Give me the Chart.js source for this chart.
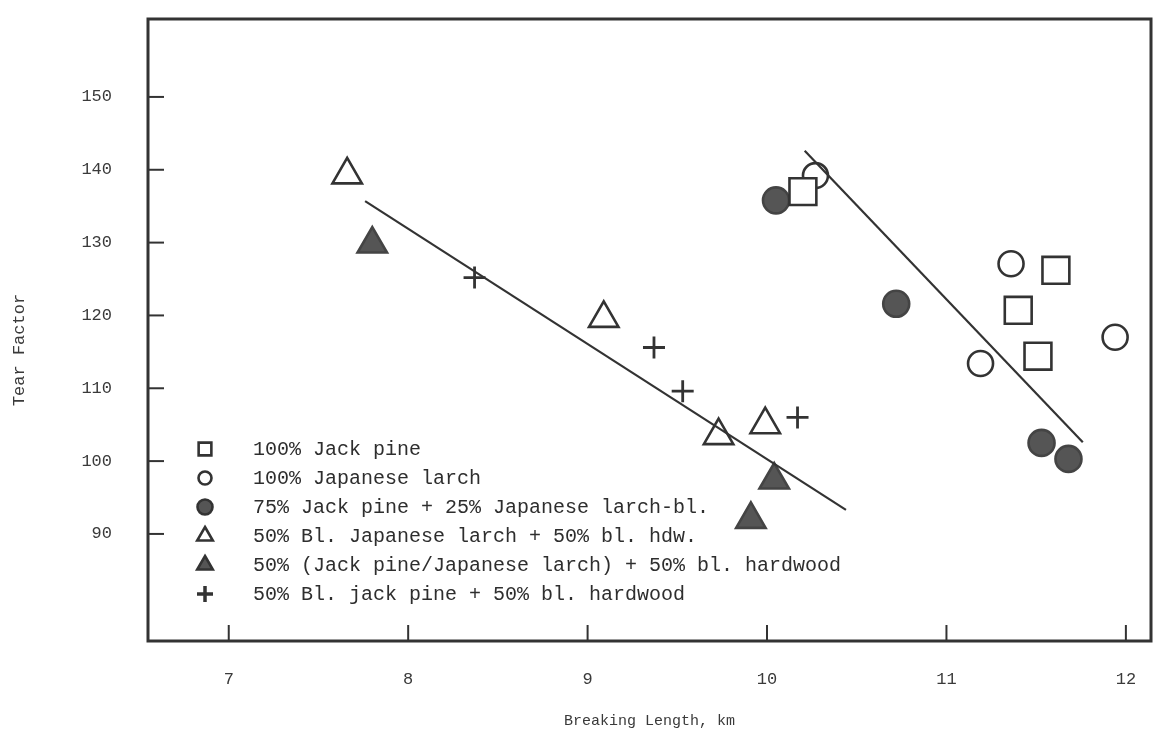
<!DOCTYPE html>
<html>
<head>
<meta charset="utf-8">
<script src="https://cdn.jsdelivr.net/npm/chart.js@4"></script>
<style>
  html, body { margin: 0; padding: 0; background: #fff; }
  #wrap { width: 1153px; height: 734px; position: relative; }
</style>
</head>
<body>
<div id="wrap"><canvas id="tearChart"></canvas></div>
<script>
// data
const xTicks = [7, 8, 9, 10, 11, 12];
const yTicks = [90, 100, 110, 120, 130, 140, 150];

const seriesNames = [
    '100% Jack pine',
    '100% Japanese larch',
    '75% Jack pine + 25% Japanese larch-bl.',
    '50% Bl. Japanese larch + 50% bl. hdw.',
    '50% (Jack pine/Japanese larch) + 50% bl. hardwood',
    '50% Bl. jack pine + 50% bl. hardwood'
];

const jackPineX = [10.20, 11.61, 11.40, 11.51];
const jackPineY = [137.0, 126.2, 120.7, 114.4];

const larchX = [10.27, 11.36, 11.19, 11.94];
const larchY = [139.2, 127.1, 113.4, 117.0];

const mix75X = [10.05, 10.72, 11.53, 11.68];
const mix75Y = [135.8, 121.6, 102.5, 100.3];

const blLarchX = [7.66, 9.09, 9.73, 9.99];
const blLarchY = [139.3, 119.6, 103.5, 105.0];

const blMixX = [7.80, 10.04, 9.91];
const blMixY = [129.8, 97.4, 92.0];

const blJackX = [8.37, 9.37, 9.53, 10.17];
const blJackY = [125.2, 115.6, 109.6, 106.0];

// two fitted lines
const fitLeftX = [7.76, 10.44];
const fitLeftY = [135.7, 93.3];
const fitRightX = [10.21, 11.76];
const fitRightY = [142.6, 102.6];

const ink = '#333333';
const grey = '#555555';

function pts(xs, ys) {
    return xs.map((x, i) => ({ x: x, y: ys[i] }));
}

// marker looks, in legend order
const markerStyles = [
    { pointStyle: 'rect', radius: 19, fill: '#ffffff', legendRadius: 9 },
    { pointStyle: 'circle', radius: 12.5, fill: '#ffffff', legendRadius: 6.5 },
    { pointStyle: 'circle', radius: 13, fill: grey, legendRadius: 7.5 },
    { pointStyle: 'triangle', radius: 17, fill: '#ffffff', legendRadius: 9 },
    { pointStyle: 'triangle', radius: 17, fill: grey, legendRadius: 9 },
    { pointStyle: 'cross', radius: 11, fill: ink, legendRadius: 8 }
];

const pointSets = [
    pts(jackPineX, jackPineY),
    pts(larchX, larchY),
    pts(mix75X, mix75Y),
    pts(blLarchX, blLarchY),
    pts(blMixX, blMixY),
    pts(blJackX, blJackY)
];

const datasets = [
    {
        type: 'line', label: 'fit-left', data: pts(fitLeftX, fitLeftY),
        borderColor: ink, borderWidth: 2.2, pointRadius: 0, fill: false
    },
    {
        type: 'line', label: 'fit-right', data: pts(fitRightX, fitRightY),
        borderColor: ink, borderWidth: 2.2, pointRadius: 0, fill: false
    }
];
pointSets.forEach((d, i) => {
    const s = markerStyles[i];
    datasets.push({
        type: 'scatter',
        label: seriesNames[i],
        data: d,
        pointStyle: s.pointStyle,
        pointRadius: s.radius,
        pointHoverRadius: s.radius,
        pointBackgroundColor: s.fill,
        pointBorderColor: i === 2 || i === 4 ? '#444' : ink,
        pointBorderWidth: i === 5 ? 2.8 : 2.6
    });
});

const mono = '"Liberation Mono", "DejaVu Sans Mono", monospace';

// frame round the plot, short ticks pointing inwards, rotated y title
const framePlugin = {
    id: 'frame',
    afterDraw(chart) {
        const { ctx, chartArea: a, scales } = chart;
        ctx.save();
        ctx.strokeStyle = ink;
        ctx.lineWidth = 2;
        yTicks.forEach(v => {
            const y = scales.y.getPixelForValue(v);
            ctx.beginPath();
            ctx.moveTo(a.left, y);
            ctx.lineTo(a.left + 16, y);
            ctx.stroke();
        });
        xTicks.forEach(v => {
            const x = scales.x.getPixelForValue(v);
            ctx.beginPath();
            ctx.moveTo(x, a.bottom);
            ctx.lineTo(x, a.bottom - 16);
            ctx.stroke();
        });
        ctx.lineWidth = 3;
        ctx.strokeRect(a.left, a.top, a.right - a.left, a.bottom - a.top);

        ctx.translate(19, 350);
        ctx.rotate(-Math.PI / 2);
        ctx.font = '17px ' + mono;
        ctx.fillStyle = '#3a3a3a';
        ctx.textAlign = 'center';
        ctx.textBaseline = 'middle';
        ctx.fillText('Tear Factor', 0, 0);
        ctx.restore();
    }
};

// legend sits inside the plot, lower left
const legendPlugin = {
    id: 'insideLegend',
    afterDraw(chart) {
        const { ctx, chartArea: a } = chart;
        const mx = a.left + 57, tx = a.left + 105;
        let y = 449;
        ctx.save();
        ctx.font = '20px ' + mono;
        ctx.textBaseline = 'middle';
        seriesNames.forEach((name, i) => {
            const s = markerStyles[i];
            ctx.fillStyle = s.fill;
            ctx.strokeStyle = ink;
            ctx.lineWidth = i === 5 ? 3.5 : 2.6;
            Chart.helpers.drawPoint(ctx, { pointStyle: s.pointStyle, radius: s.legendRadius, borderWidth: ctx.lineWidth }, mx, y);
            ctx.fillStyle = '#2e2e2e';
            ctx.fillText(name, tx, y + 1);
            y += 29;
        });
        ctx.restore();
    }
};

new Chart(document.getElementById('tearChart'), {
    data: { datasets: datasets },
    options: {
        responsive: true,
        maintainAspectRatio: false,
        animation: false,
        layout: { autoPadding: false, padding: { top: 19, right: 2, left: 0, bottom: 0 } },
        plugins: {
            legend: { display: false },
            tooltip: { enabled: false }
        },
        scales: {
            x: {
                type: 'linear',
                min: 6.55,
                max: 12.14,
                afterBuildTicks: s => { s.ticks = xTicks.map(v => ({ value: v })); },
                afterFit: s => { s.height = 93; s.paddingLeft = 0; s.paddingRight = 0; },
                grid: { display: false, drawTicks: false },
                border: { display: false },
                ticks: { padding: 28, color: '#3a3a3a', font: { family: mono, size: 17 } },
                title: {
                    display: true,
                    text: 'Breaking Length, km',
                    color: '#3a3a3a',
                    font: { family: mono, size: 15 },
                    padding: { top: 16, bottom: 4 }
                }
            },
            y: {
                type: 'linear',
                min: 75.3,
                max: 160.7,
                afterBuildTicks: s => { s.ticks = yTicks.map(v => ({ value: v })); },
                afterFit: s => { s.width = 148; s.paddingTop = 0; s.paddingBottom = 0; },
                grid: { display: false, drawTicks: false },
                border: { display: false },
                ticks: { padding: 36, color: '#3a3a3a', font: { family: mono, size: 17 } },
                title: { display: false }
            }
        }
    },
    plugins: [framePlugin, legendPlugin]
});
</script>
</body>
</html>
